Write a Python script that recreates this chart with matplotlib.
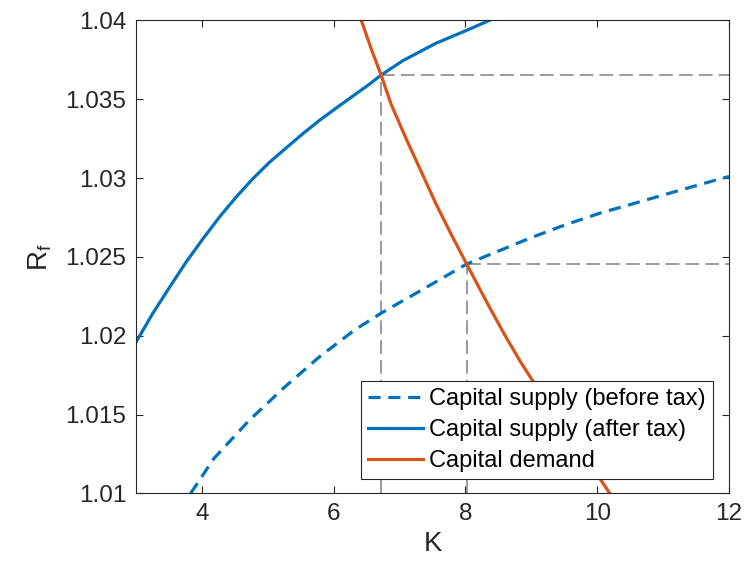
import matplotlib
matplotlib.use('Agg')
import matplotlib.pyplot as plt

plt.rcParams['font.family'] = ['Liberation Sans', 'DejaVu Sans']
plt.rcParams['mathtext.default'] = 'regular'

# Capital supply before tax (dashed)
k_before = [3.83, 4.18, 4.71, 5.25, 5.78, 6.32, 6.72, 7.39, 8.02, 8.46, 8.99,
            9.53, 10.06, 10.60, 11.13, 11.88, 12.0]
r_before = [1.0100, 1.0122, 1.0146, 1.01672, 1.01865, 1.02037, 1.02143, 1.02303,
            1.02455, 1.0253, 1.02621, 1.02706, 1.0278, 1.02844, 1.02908, 1.02997, 1.0301]

# Capital supply after tax (solid)
k_after = [3.0, 3.25, 3.51, 3.76, 4.01, 4.27, 4.52, 4.77, 5.02, 5.28, 5.53, 5.78,
           6.04, 6.29, 6.54, 6.72, 7.05, 7.55, 8.06, 8.36]
r_after = [1.01959, 1.02139, 1.02308, 1.02467, 1.02612, 1.02755, 1.0288, 1.02995,
           1.03098, 1.03192, 1.03281, 1.03365, 1.03445, 1.0352, 1.03595, 1.03654,
           1.03745, 1.03855, 1.03945, 1.0400]

# Capital demand
k_demand = [6.42, 6.57, 6.72, 6.87, 7.11, 7.33, 7.56, 7.80, 8.02, 8.34, 8.59,
            8.84, 9.10, 9.35, 9.60, 9.86, 10.19]
r_demand = [1.0400, 1.0382, 1.03654, 1.0347, 1.0324, 1.0304, 1.0283, 1.0263,
            1.02453, 1.0220, 1.0201, 1.01831, 1.01663, 1.01505, 1.01353, 1.01206, 1.0100]

# equilibria (after tax, before tax)
k_eq = [6.72, 8.02]
r_eq = [1.03654, 1.02453]

xticks = [4, 6, 8, 10, 12]
yticks = [1.01, 1.015, 1.02, 1.025, 1.03, 1.035, 1.04]
ytick_labels = ['1.01', '1.015', '1.02', '1.025', '1.03', '1.035', '1.04']

blue = '#0072BD'
orange = '#D95319'
axcol = '#262626'

fig = plt.figure(figsize=(7.45, 5.69), dpi=100)
ax = fig.add_axes([0.1826, 0.133, 0.7959, 0.831])

x_lo, x_hi = 3, 12
y_lo, y_hi = 1.01, 1.04

# guide lines
for k, r in zip(k_eq, r_eq):
    ax.plot([k, k], [y_lo, r], color='#808080', lw=1.1, dashes=(9, 4))
    ax.plot([k, x_hi], [r, r], color='#808080', lw=1.1, dashes=(9, 4))

ax.plot(k_before, r_before, color=blue, lw=2.3, dashes=(3.8, 2.4),
        label='Capital supply (before tax)')
ax.plot(k_after, r_after, color=blue, lw=2.3, label='Capital supply (after tax)')
ax.plot(k_demand, r_demand, color=orange, lw=2.3, label='Capital demand')

ax.set_xlim(x_lo, x_hi)
ax.set_ylim(y_lo, y_hi)
ax.set_xticks(xticks)
ax.set_yticks(yticks)
ax.set_yticklabels(ytick_labels)
ax.tick_params(direction='in', length=5, width=0.8, top=True, right=True,
               labelsize=17.5, colors=axcol, pad=7)
for s in ax.spines.values():
    s.set_color(axcol)
    s.set_linewidth(0.8)

ax.set_xlabel('K', fontsize=20, color=axcol, labelpad=4)
ax.set_ylabel('R$_{f}$', fontsize=20, color=axcol, labelpad=8)

leg = ax.legend(loc='lower right', bbox_to_anchor=(0.973, 0.030), borderaxespad=0,
                fontsize=17, frameon=True, fancybox=False, handlelength=2.35,
                handletextpad=0.25, labelspacing=0.38, borderpad=0.3)
leg.get_frame().set_edgecolor(axcol)
leg.get_frame().set_linewidth(0.8)
leg.get_frame().set_alpha(1)

fig.savefig('out.png', dpi=100)
